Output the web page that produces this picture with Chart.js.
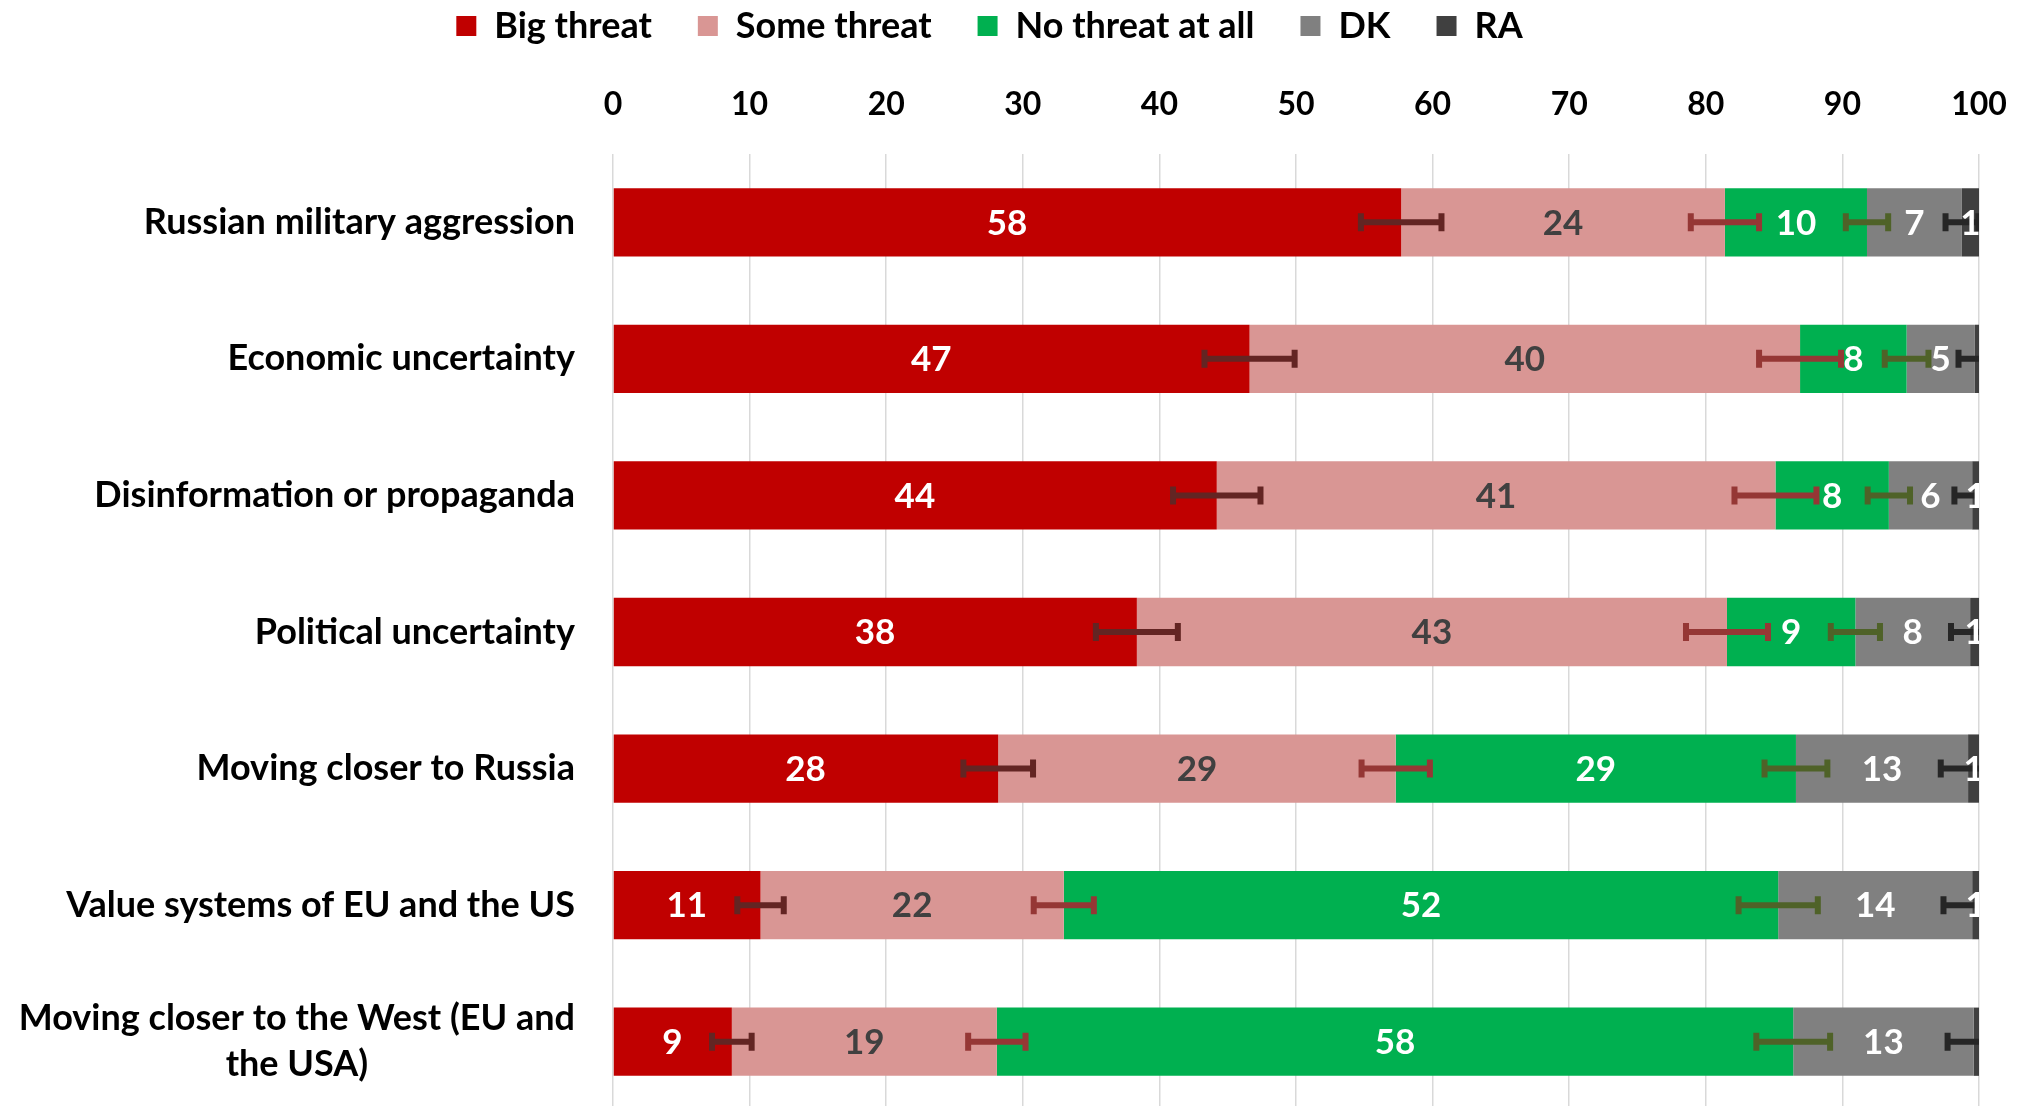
<!DOCTYPE html>
<html>
<head>
<meta charset="utf-8">
<script src="https://cdn.jsdelivr.net/npm/chart.js@4.4.1/dist/chart.umd.min.js"></script>
<style>
  html, body { margin: 0; padding: 0; background: #fff; overflow: hidden; }
  #wrap { width: 2028px; height: 1110px; }
</style>
</head>
<body>
<div id="wrap"><canvas id="chart" width="2028" height="1110"></canvas></div>
<script>
// categories (top to bottom)
const categories = [
  'Russian military aggression',
  'Economic uncertainty',
  'Disinformation or propaganda',
  'Political uncertainty',
  'Moving closer to Russia',
  'Value systems of EU and the US',
  ['Moving closer to the West (EU and', 'the USA)']
]

// series values, %
const bigThreat = [57.7, 46.6, 44.2, 38.35, 28.2, 10.8, 8.7]
const someThreat = [23.7, 40.3, 40.9, 43.2, 29.1, 22.2, 19.4]
const noThreat = [10.4, 7.8, 8.3, 9.4, 29.3, 52.3, 58.3]
const dkValues = [6.95, 5.0, 6.1, 8.4, 12.6, 14.2, 13.2]
const raValues = [1.25, 0.3, 0.5, 0.65, 0.8, 0.5, 0.4]

// error margins (+/-) at the end of each segment
const bigThreatErr = [2.95, 3.3, 3.2, 3.0, 2.55, 1.7, 1.45]
const someThreatErr = [2.5, 3.0, 3.0, 3.0, 2.5, 2.2, 2.1]
const noThreatErr = [1.55, 1.6, 1.55, 1.8, 2.3, 2.9, 2.7]
const dkErr = [1.2, 1.2, 1.3, 1.4, 2.0, 2.1, 1.9]

// axis ticks
const xTicks = [0, 10, 20, 30, 40, 50, 60, 70, 80, 90, 100]

const FONT = 'Lato'
const PLOT_TOP = 154
const PLOT_LEFT = 613
const PAD_TOP = -38

const errorSets = [bigThreatErr, someThreatErr, noThreatErr, dkErr]
const errorColors = ['#632523', '#953735', '#4F6228', '#262626']
const labelColors = ['#FFFFFF', '#404040', '#FFFFFF', '#FFFFFF', '#FFFFFF']

// error bars, value labels and wrapped category labels
const overlayPlugin = {
  id: 'overlay',
  afterDatasetsDraw(chart) {
    const ctx = chart.ctx
    const xs = chart.scales.x
    const ys = chart.scales.y
    const area = chart.chartArea
    const sets = chart.data.datasets

    ctx.save()
    ctx.beginPath()
    ctx.rect(area.left, area.top, area.right - area.left, area.bottom - area.top)
    ctx.clip()

    // error bars
    ctx.lineWidth = 6
    ctx.lineCap = 'butt'
    for (let s = 0; s < errorSets.length; s++) {
      ctx.strokeStyle = errorColors[s]
      for (let i = 0; i < categories.length; i++) {
        let end = 0
        for (let k = 0; k <= s; k++) end += sets[k].data[i]
        const e = errorSets[s][i]
        const x1 = xs.getPixelForValue(end - e)
        const x2 = xs.getPixelForValue(end + e)
        const y = ys.getPixelForValue(i)
        ctx.beginPath()
        ctx.moveTo(x1, y); ctx.lineTo(x2, y)
        ctx.moveTo(x1, y - 9); ctx.lineTo(x1, y + 9)
        ctx.moveTo(x2, y - 9); ctx.lineTo(x2, y + 9)
        ctx.stroke()
      }
    }

    // value labels
    ctx.font = 'bold 35px ' + FONT
    ctx.textAlign = 'center'
    ctx.textBaseline = 'middle'
    for (let s = 0; s < sets.length; s++) {
      ctx.fillStyle = labelColors[s]
      for (let i = 0; i < categories.length; i++) {
        let start = 0
        for (let k = 0; k < s; k++) start += sets[k].data[i]
        const v = sets[s].data[i]
        const shown = Math.round(v)
        if (shown < 1) continue
        const x = xs.getPixelForValue(start + v / 2)
        const y = ys.getPixelForValue(i)
        ctx.fillText(String(shown), x, y + 1)
      }
    }
    ctx.restore()

    // category labels
    ctx.save()
    ctx.font = 'bold 36px ' + FONT
    ctx.fillStyle = '#000000'
    ctx.textAlign = 'center'
    ctx.textBaseline = 'middle'
    const right = PLOT_LEFT - 38
    for (let i = 0; i < categories.length; i++) {
      const lines = Array.isArray(categories[i]) ? categories[i] : [categories[i]]
      const w = Math.max(...lines.map(l => ctx.measureText(l).width))
      const yc = ys.getPixelForValue(i)
      lines.forEach((line, k) => {
        ctx.fillText(line, right - w / 2, yc + (k - (lines.length - 1) / 2) * 46)
      })
    }
    ctx.restore()
  }
}

const chart = new Chart(document.getElementById('chart'), {
  type: 'bar',
  data: {
    labels: categories,
    datasets: [
      { label: 'Big threat', data: bigThreat, backgroundColor: '#C00000' },
      { label: 'Some threat', data: someThreat, backgroundColor: '#D99694' },
      { label: 'No threat at all', data: noThreat, backgroundColor: '#00B050' },
      { label: 'DK', data: dkValues, backgroundColor: '#808080' },
      { label: 'RA', data: raValues, backgroundColor: '#404040' }
    ]
  },
  options: {
    indexAxis: 'y',
    responsive: false,
    animation: false,
    layout: { padding: { left: 0, right: 49, top: PAD_TOP, bottom: 0 } },
    datasets: {
      bar: { categoryPercentage: 1, barPercentage: 0.5, borderWidth: 0 }
    },
    plugins: {
      legend: {
        position: 'top',
        labels: {
          boxWidth: 20,
          boxHeight: 20,
          padding: 46,
          color: '#000000',
          font: { family: FONT, weight: 'bold', size: 36 }
        }
      },
      tooltip: { enabled: false }
    },
    scales: {
      x: {
        position: 'top',
        stacked: true,
        min: 0,
        max: 100,
        afterBuildTicks(scale) {
          scale.ticks = xTicks.map(v => ({ value: v }))
        },
        afterFit(scale) {
          const lh = scale.chart.legend ? (scale.chart.legend.height || 0) : 0
          scale.height = PLOT_TOP - PAD_TOP - lh
          // tick padding should not push the plot edges inwards
          scale.paddingLeft = 0
          scale.paddingRight = 0
        },
        grid: { color: '#D9D9D9', lineWidth: 1.5, drawTicks: false },
        border: { display: false },
        ticks: {
          padding: 30,
          color: '#000000',
          font: { family: FONT, weight: 'bold', size: 32 }
        }
      },
      y: {
        stacked: true,
        grid: { display: false },
        border: { display: false },
        ticks: { display: false },
        afterFit(scale) {
          scale.width = PLOT_LEFT
        }
      }
    }
  },
  plugins: [overlayPlugin]
})
</script>
</body>
</html>
